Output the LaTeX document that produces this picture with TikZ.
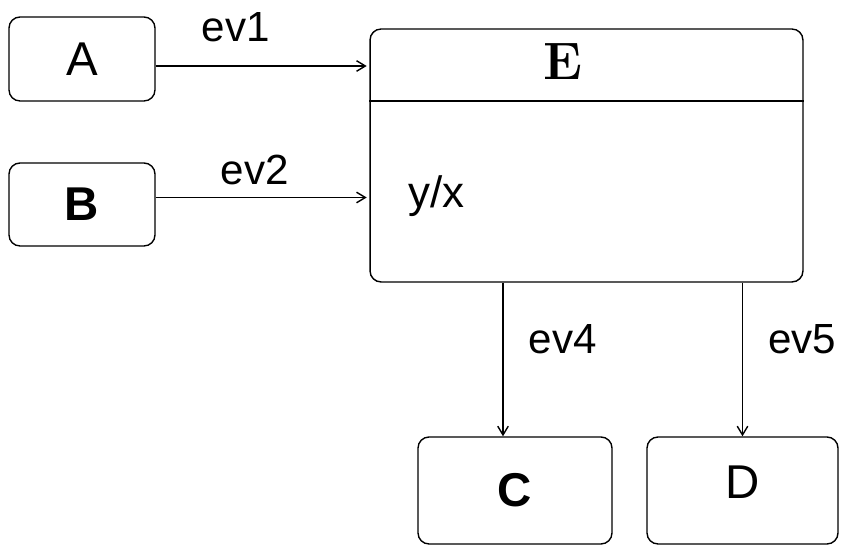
\documentclass[tikz,border=0pt]{standalone}
\usepackage{fontspec}
\setsansfont{Liberation Sans}
\usetikzlibrary{arrows.meta}
\begin{document}
\begin{tikzpicture}[x=0.02cm,y=-0.02cm,
    state/.style={draw,rounded corners=0.22cm,line width=0.8pt,inner sep=0pt,
      font=\sffamily\fontsize{27}{30}\selectfont},
    trans/.style={-{Straight Barb[length=5pt,width=6pt]},line width=0.8pt},
    lbl/.style={font=\sffamily\fontsize{24}{28}\selectfont}]
      \useasboundingbox (0,0) rectangle (845,546);
      \draw
        (82,59) node[state,minimum width=2.92cm,minimum height=1.68cm] (A){A}
        (82,204.5) node[state,minimum width=2.92cm,minimum height=1.66cm] (B){\textbf{B}}
        (586.5,155.5) node[state,minimum width=8.66cm,minimum height=5.06cm] (E){}
        (515,490.5) node[state,minimum width=3.88cm,minimum height=2.14cm] (C){\textbf{C}}
        (742.5,490.5) node[state,minimum width=3.82cm,minimum height=2.14cm] (D){\raisebox{9pt}{D}};
      \draw[line width=0.8pt] (E.west |- 0,101) -- (E.east |- 0,101);
      \node[font=\rmfamily\bfseries\fontsize{30}{34}\selectfont] (Etitle) at (563,62) {E};
      \node[lbl,anchor=base west,inner sep=0pt,font=\sffamily\fontsize{25}{28}\selectfont] (Eaction) at (408,208) {y/x};
      \begin{scope}[trans]
        \draw ([yshift=-0.14cm]A.east) -- ([yshift=-0.14cm,xshift=-1.5pt]A.east -| E.west)
          node[lbl,pos=0.38,above=0.36cm] (ev1){ev1};
        \draw ([yshift=0.14cm]B.east) -- ([yshift=0.14cm,xshift=-1.5pt]B.east -| E.west)
          node[lbl,pos=0.47,above=0.12cm] (ev2){ev2};
        \draw ([xshift=-0.24cm]C.north |- E.south) -- ([xshift=-0.24cm]C.north)
          node[lbl,pos=0.37,right=0.38cm] (ev4){ev4};
        \draw (D.north |- E.south) -- (D.north)
          node[lbl,pos=0.37,right=0.38cm] (ev5){ev5};
      \end{scope}
    \end{tikzpicture}
\end{document}
